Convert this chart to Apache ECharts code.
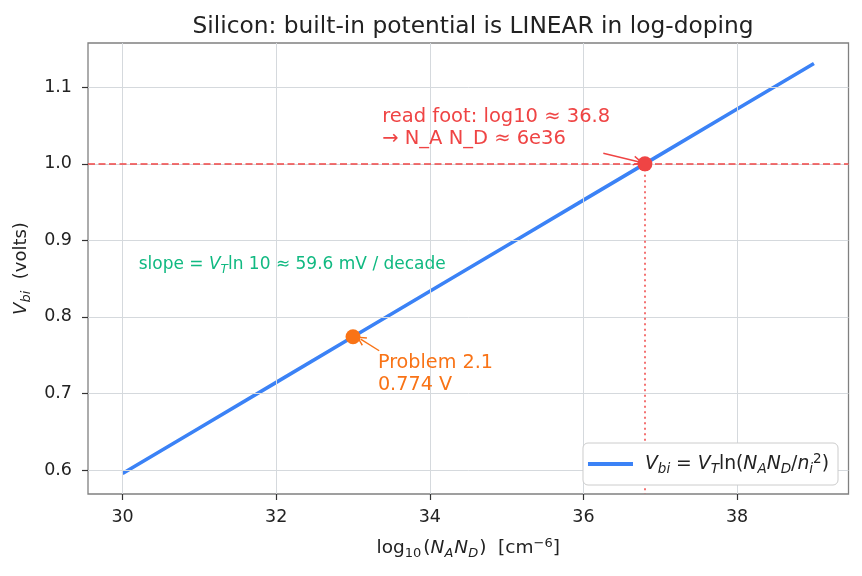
<!DOCTYPE html>
<html><head><meta charset="utf-8">
<script src="https://cdn.jsdelivr.net/npm/echarts@6/dist/echarts.min.js"></script>
<style>html,body{margin:0;padding:0;background:#fff}#c{width:862px;height:576px}</style>
</head><body><div id="c"></div>
<script>
// ---- data ----
const logDoping = [30, 31, 32, 33, 34, 35, 36, 37, 38, 39];
const vbi = [0.5954, 0.6549, 0.7145, 0.774, 0.8335, 0.8930, 0.9526, 1.0121, 1.0716, 1.1311];
const xTicks = [30, 32, 34, 36, 38];
const yTicks = [0.6, 0.7, 0.8, 0.9, 1.0, 1.1];
const xRange = [29.55, 39.45];
const yRange = [0.5686, 1.1579];
const targetV = 1.0;
const footX = 36.8;
const problemX = 33;
const problemV = 0.774;
// annotation anchor points (data units)
const footText = [33.38, 1.0468];
const footArrow = [[36.258, 1.0138], [36.714, 1.0028]];
const problemText = [33.324, 0.7254];
const problemArrow = [[33.341, 0.7558], [33.099, 0.7710]];
const slopeText = [30.21, 0.8678];

const FONT = '"DejaVu Sans", sans-serif';
const BLUE = '#3b82f6', RED = '#ef4444', ORANGE = '#f97316', GREEN = '#10b981';
const TXT = '#222222';
const CHEVRON = 'path://M5,0 L10,10 L8.6,10.6 L5,3 L1.4,10.6 L0,10 Z';

const chart = echarts.init(document.getElementById('c'), null, {renderer: 'canvas'});

const gridLines = [];
xTicks.forEach(v => gridLines.push({xAxis: v}));
yTicks.forEach(v => gridLines.push({yAxis: v}));

const option = {
  animation: false,
  backgroundColor: '#ffffff',
  textStyle: {fontFamily: FONT, color: TXT},
  title: {
    text: 'Silicon: built-in potential is LINEAR in log-doping',
    left: 468, top: 10, textAlign: 'center',
    textStyle: {fontFamily: FONT, fontSize: 23.3, fontWeight: 'normal', color: TXT}
  },
  grid: {left: 88, right: 13.5, top: 43, bottom: 82, show: true, borderColor: '#808080', borderWidth: 1.3, backgroundColor: 'transparent'},
  xAxis: {
    type: 'value', min: xRange[0], max: xRange[1],
    axisLine: {show: false},
    axisTick: {show: true, customValues: xTicks, length: 6, lineStyle: {color: '#333', width: 1.2}},
    axisLabel: {customValues: xTicks, fontFamily: FONT, fontSize: 17.5, color: TXT, margin: 14},
    splitLine: {show: false},
    name: '{n|log}{r|10}{n|(}{i|N}{s|A}{i|N}{s|D}{n|)  [cm}{u|−6}{n|]}',
    nameLocation: 'middle', nameGap: 43,
    nameTextStyle: {
      rich: {
        n: {fontFamily: FONT, fontSize: 18.5, color: TXT},
        i: {fontFamily: FONT, fontSize: 18.5, fontStyle: 'italic', color: TXT},
        r: {fontFamily: FONT, fontSize: 13, color: TXT, padding: [10, 2, 0, 0]},
        s: {fontFamily: FONT, fontSize: 13, fontStyle: 'italic', color: TXT, padding: [10, 1, 0, 0]},
        u: {fontFamily: FONT, fontSize: 13, color: TXT, padding: [0, 0, 10, 0]}
      }
    }
  },
  yAxis: {
    type: 'value', min: yRange[0], max: yRange[1],
    axisLine: {show: false},
    axisTick: {show: true, customValues: yTicks, length: 6, lineStyle: {color: '#333', width: 1.2}},
    axisLabel: {customValues: yTicks, fontFamily: FONT, fontSize: 17.5, color: TXT, margin: 16,
      formatter: v => v.toFixed(1)},
    splitLine: {show: false},
    name: '{i|V}{s|bi}{n|  (volts)}',
    nameLocation: 'middle', nameGap: 52, nameRotate: 90,
    nameTextStyle: {
      rich: {
        n: {fontFamily: FONT, fontSize: 18, color: TXT},
        i: {fontFamily: FONT, fontSize: 18, fontStyle: 'italic', color: TXT},
        s: {fontFamily: FONT, fontSize: 13, fontStyle: 'italic', color: TXT, padding: [10, 0, 0, 0]}
      }
    }
  },
  legend: {
    right: 24, bottom: 91,
    padding: [9, 9, 9, 5],
    backgroundColor: '#ffffff', borderColor: '#cccccc', borderWidth: 1, borderRadius: 5,
    itemWidth: 45, itemHeight: 4, itemGap: 10,
    data: [{name: 'Vbi', icon: 'rect'}],
    formatter: () => '{g|}{i|V}{s|bi}{n| = }{i|V}{s|T}{n|ln(}{i|N}{s|A}{i|N}{s|D}{n|/}{i|n}{s|i}{u|2}{n|)}',
    textStyle: {
      rich: {
        g: {width: 7},
        n: {fontFamily: FONT, fontSize: 18.8, color: TXT},
        i: {fontFamily: FONT, fontSize: 18.8, fontStyle: 'italic', color: TXT},
        s: {fontFamily: FONT, fontSize: 13.5, fontStyle: 'italic', color: TXT, padding: [10, 0, 0, 0]},
        u: {fontFamily: FONT, fontSize: 13.5, color: TXT, padding: [0, 0, 10, 0]}
      }
    },
    z: 20
  },
  series: [
    {
      name: 'grid', type: 'line', data: [], silent: true, z: 0,
      markLine: {silent: true, symbol: ['none', 'none'], label: {show: false},
        lineStyle: {color: '#d5d9dd', width: 1, type: 'solid'}, data: gridLines}
    },
    {
      name: 'Vbi', type: 'line', data: logDoping.map((x, i) => [x, vbi[i]]),
      showSymbol: false, lineStyle: {color: BLUE, width: 3.6}, itemStyle: {color: BLUE}, z: 3
    },
    {
      name: 'target', type: 'line', data: [], z: 2,
      markLine: {silent: true, symbol: ['none', 'none'], label: {show: false},
        data: [
          {yAxis: targetV, lineStyle: {color: RED, width: 1.6, type: [7, 3.5]}},
          [{coord: [footX, targetV], lineStyle: {color: RED, width: 1.5, type: [2, 3.5]}}, {coord: [footX, yRange[0]]}]
        ]}
    },
    {
      name: 'arrows', type: 'line', data: [], z: 5,
      markLine: {silent: true, symbol: ['none', CHEVRON], symbolSize: [10, 10], label: {show: false},
        data: [
          [{coord: footArrow[0], lineStyle: {color: RED, width: 1.4, type: 'solid'}, itemStyle: {color: RED}}, {coord: footArrow[1], itemStyle: {color: RED}}],
          [{coord: problemArrow[0], lineStyle: {color: ORANGE, width: 1.4, type: 'solid'}, itemStyle: {color: ORANGE}}, {coord: problemArrow[1], itemStyle: {color: ORANGE}}]
        ]}
    },
    {
      name: 'foot', type: 'scatter', data: [[footX, targetV]], symbolSize: 15,
      itemStyle: {color: RED, opacity: 1}, z: 6
    },
    {
      name: 'problem', type: 'scatter', data: [[problemX, problemV]], symbolSize: 15,
      itemStyle: {color: ORANGE, opacity: 1}, z: 6
    }
  ]
};
chart.setOption(option);

const p1 = chart.convertToPixel({gridIndex: 0}, footText);
const p2 = chart.convertToPixel({gridIndex: 0}, problemText);
const p3 = chart.convertToPixel({gridIndex: 0}, slopeText);
chart.setOption({
  graphic: [
    {type: 'text', x: p1[0], y: p1[1], z: 10,
      style: {text: 'read foot: log10 ≈ 36.8\n→ N_A N_D ≈ 6e36', fill: RED, font: '19.5px ' + FONT, lineHeight: 22.5, textVerticalAlign: 'middle'}},
    {type: 'text', x: p2[0], y: p2[1], z: 10,
      style: {text: 'Problem 2.1\n0.774 V', fill: ORANGE, font: '19.2px ' + FONT, lineHeight: 22.5, textVerticalAlign: 'middle'}},
    {type: 'text', x: p3[0], y: p3[1], z: 10,
      style: {
        text: '{n|slope = }{i|V}{s|T}{n|ln 10 ≈ 59.6 mV / decade}',
        textVerticalAlign: 'middle',
        rich: {
          n: {fontFamily: FONT, fontSize: 17, fill: GREEN},
          i: {fontFamily: FONT, fontSize: 17, fontStyle: 'italic', fill: GREEN},
          s: {fontFamily: FONT, fontSize: 12, fontStyle: 'italic', fill: GREEN, padding: [9, 0, 0, 0]}
        }
      }}
  ]
});
</script>
</body></html>
